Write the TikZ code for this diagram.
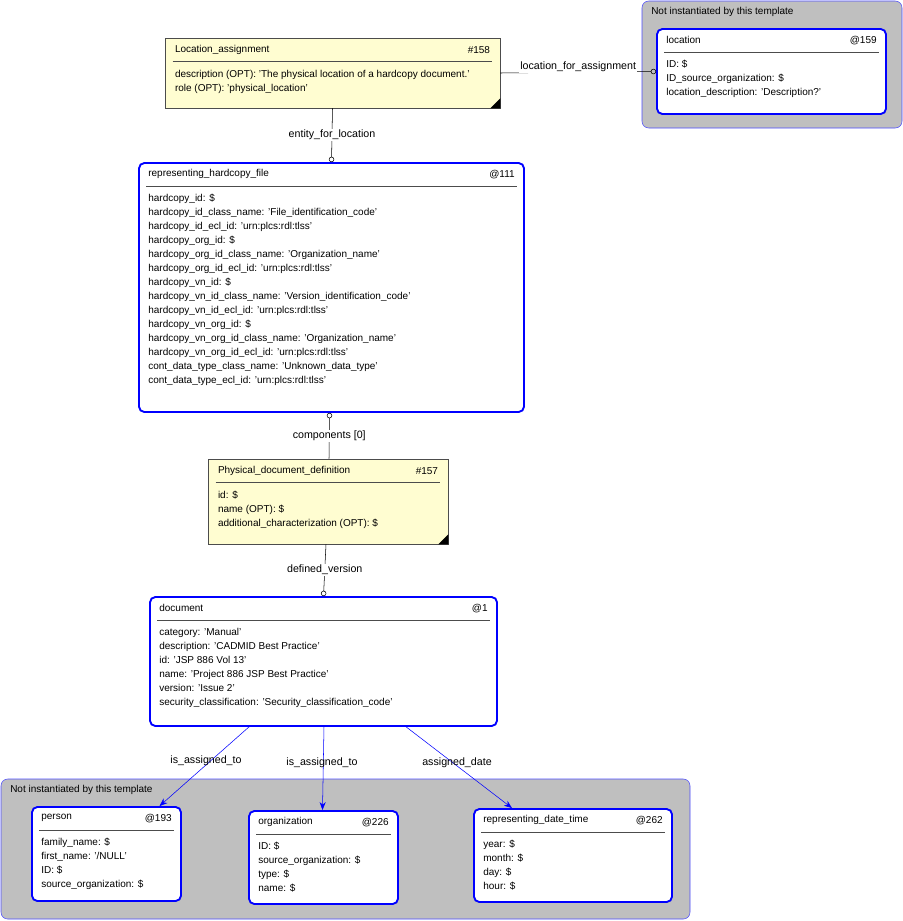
\documentclass[tikz,border=0pt]{standalone}
\usepackage{fontspec}
\setmainfont{Liberation Sans}
\usetikzlibrary{positioning,calc,fit,arrows.meta}

% entity box: name, corner 1, corner 2, style, title, id, body
\newcommand{\entbox}[7]{%
  \node[#4, fit={#2 #3}] (#1) {};
  \node[txt, anchor=west] at ($(#1.north west)+(10,12)$) {#5};
  \node[txt, anchor=east] at ($(#1.north east)+(-10,12)$) {#6};
  \draw[gray!60!black] ($(#1.north west)+(8,24)$) -- ($(#1.north east)+(-8,24)$);
  \node[txt, anchor=north west, align=left] at ($(#1.north west)+(10,32)$) {#7};
}

\begin{document}
\begin{tikzpicture}[x=0.75pt, y=-0.75pt,
    txt/.style={inner sep=0pt, font=\fontsize{7.5}{10.5}\selectfont},
    ent/.style={draw=blue, line width=1.4pt, rounded corners=4pt, inner sep=0pt},
    note/.style={draw=gray!60!black, fill=yellow!18, inner sep=0pt},
    region/.style={draw=blue!70, fill=gray!50, rounded corners=5pt},
    lbl/.style={font=\fontsize{8}{10}\selectfont, fill=white, inner sep=1pt},
    link/.style={-{Circle[open,length=4pt]}, thin},
    arrow/.style={-{Stealth[length=6pt]}, blue}
]
\useasboundingbox (0,0) rectangle (903,921);

% regions
\node[region, fit={(642,1) (902,128)}, inner sep=0pt] (topreg) {};
\node[txt, anchor=west] at (651,12) {Not instantiated by this template};
\node[region, fit={(1,779) (690,919)}, inner sep=0pt] (botreg) {};
\node[txt, anchor=west] at (10,790) {Not instantiated by this template};

% notes
\entbox{la}{(165,38)}{(500,108)}{note}{Location\_assignment}{\#158}{description (OPT): 'The physical location of a hardcopy document.'\\role (OPT): 'physical\_location'}
\fill ($(la.south east)+(-10,0)$) -- (la.south east) -- ($(la.south east)+(0,-10)$) -- cycle;

\entbox{pdd}{(208,459)}{(448,544)}{note}{Physical\_document\_definition}{\#157}{id: \$\\name (OPT): \$\\additional\_characterization (OPT): \$}
\fill ($(pdd.south east)+(-10,0)$) -- (pdd.south east) -- ($(pdd.south east)+(0,-10)$) -- cycle;

% entities
\entbox{loc}{(657,29)}{(886,114)}{ent, fill=white}{location}{@159}{ID: \$\\ID\_source\_organization: \$\\location\_description: 'Description?'}

\entbox{rhf}{(139,163)}{(524,412)}{ent, fill=white}{representing\_hardcopy\_file}{@111}{hardcopy\_id: \$\\hardcopy\_id\_class\_name: 'File\_identification\_code'\\hardcopy\_id\_ecl\_id: 'urn:plcs:rdl:tlss'\\hardcopy\_org\_id: \$\\hardcopy\_org\_id\_class\_name: 'Organization\_name'\\hardcopy\_org\_id\_ecl\_id: 'urn:plcs:rdl:tlss'\\hardcopy\_vn\_id: \$\\hardcopy\_vn\_id\_class\_name: 'Version\_identification\_code'\\hardcopy\_vn\_id\_ecl\_id: 'urn:plcs:rdl:tlss'\\hardcopy\_vn\_org\_id: \$\\hardcopy\_vn\_org\_id\_class\_name: 'Organization\_name'\\hardcopy\_vn\_org\_id\_ecl\_id: 'urn:plcs:rdl:tlss'\\cont\_data\_type\_class\_name: 'Unknown\_data\_type'\\cont\_data\_type\_ecl\_id: 'urn:plcs:rdl:tlss'}

\entbox{doc}{(150,597)}{(497,726)}{ent, fill=white}{document}{@1}{category: 'Manual'\\description: 'CADMID Best Practice'\\id: 'JSP 886 Vol 13'\\name: 'Project 886 JSP Best Practice'\\version: 'Issue 2'\\security\_classification: 'Security\_classification\_code'}

\entbox{per}{(32,807)}{(181,901)}{ent, fill=white}{person}{@193}{family\_name: \$\\first\_name: '/NULL'\\ID: \$\\source\_organization: \$}
\entbox{org}{(249,811)}{(398,904)}{ent, fill=white}{organization}{@226}{ID: \$\\source\_organization: \$\\type: \$\\name: \$}
\entbox{rdt}{(474,809)}{(672,902)}{ent, fill=white}{representing\_date\_time}{@262}{year: \$\\month: \$\\day: \$\\hour: \$}

% connectors
\draw[link] (la.east) -- (loc.west) node[lbl, midway, above=-1pt] {location\_for\_assignment};
\draw[link] (la.south) -- (rhf.north) node[lbl, midway] {entity\_for\_location};
\draw[link, {Circle[open,length=4pt]}-] ($(rhf.south)+(-2,0)$) -- ($(pdd.north)+(1,0)$) node[lbl, midway] {components [0]};
\draw[link] ($(pdd.south)+(-2,0)$) -- (doc.north) node[lbl, midway] {defined\_version};

\coordinate (d1) at (250,726);
\coordinate (d2) at (324,726);
\coordinate (d3) at (405,726);
\draw[arrow] (d1) -- ($(per.north)+(53,0)$);
\draw[arrow] (d2) -- ($(org.north)+(-1,0)$);
\draw[arrow] (d3) -- ($(rdt.north)+(-61,0)$);
\node[lbl, fill=none] at (206,761) {is\_assigned\_to};
\node[lbl, fill=none] at (322,763) {is\_assigned\_to};
\node[lbl, fill=none] at (457,763) {assigned\_date};
\end{tikzpicture}
\end{document}
